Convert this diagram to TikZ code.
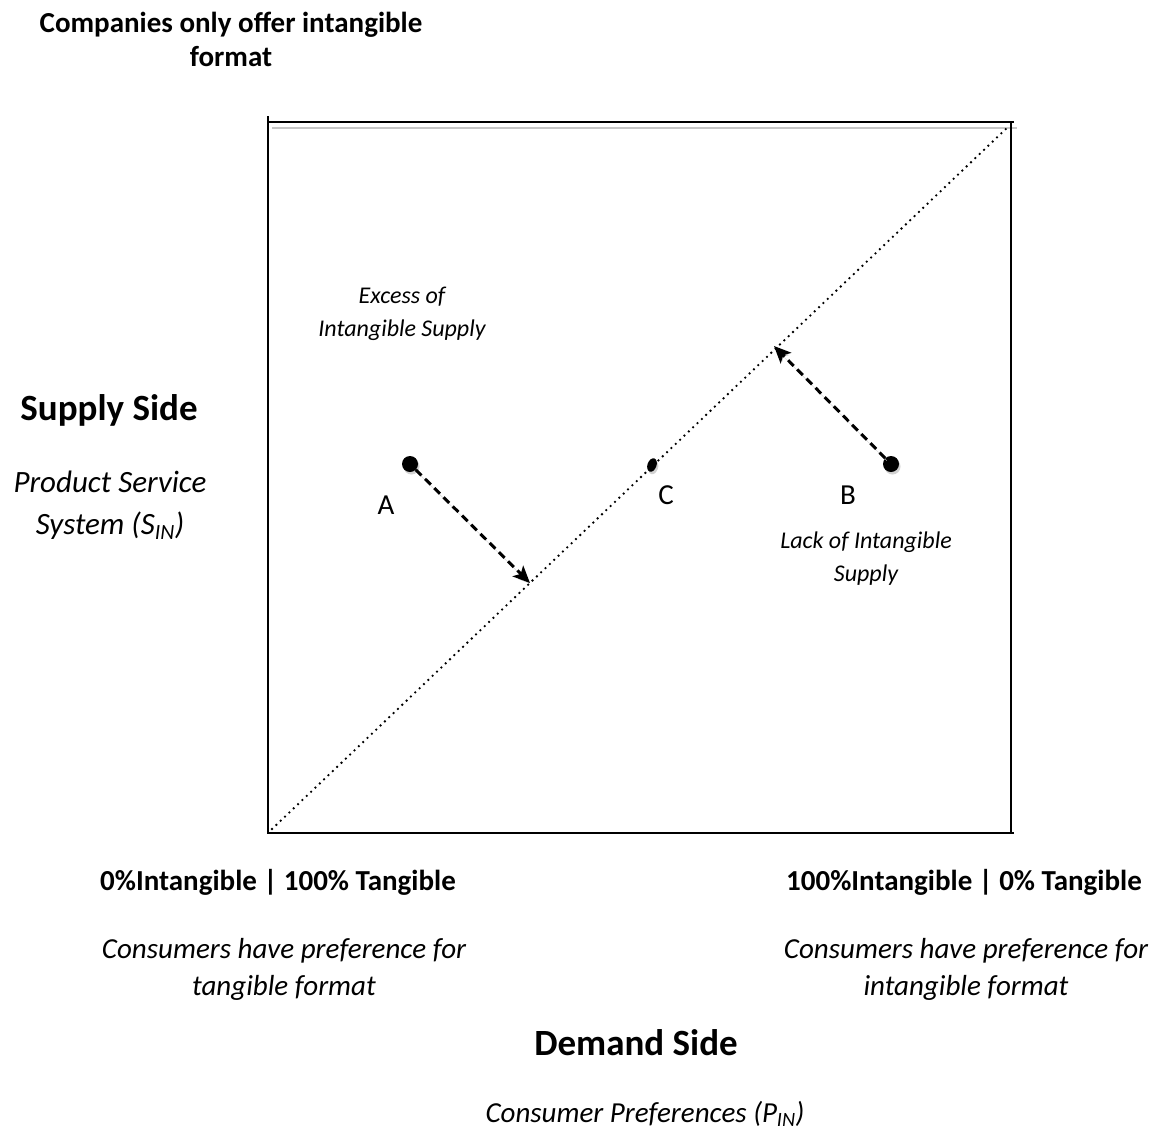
\documentclass[tikz,border=0pt]{standalone}
\usepackage{fontspec}
\setmainfont{Carlito}
\usetikzlibrary{arrows.meta,positioning,shapes.geometric}

\begin{document}
\begin{tikzpicture}[x=1pt,y=-1pt,inner sep=0pt,node font=\fontsize{29}{34}\selectfont]
	\tikzstyle{shade}=[transform canvas={shift={(1.5pt,-2.5pt)}}]
	\tikzstyle{dot}=[circle,fill=black,minimum size=16pt,inner sep=0pt,preaction={fill=gray!35,shade}]
	\tikzstyle{move}=[-{Stealth[length=17pt,width=15pt,inset=4pt]},line width=3pt,dash pattern=on 8pt off 5pt,preaction={draw=gray!35,shade}]
	\tikzstyle{head}=[font=\fontsize{37}{44}\selectfont\bfseries,align=center]
	\tikzstyle{note}=[font=\fontsize{24}{33}\selectfont\itshape,align=center]
	\tikzstyle{side}=[font=\fontsize{29}{37}\selectfont\itshape,align=center]
	\useasboundingbox (0,0) rectangle (1159,1130);
	
	% frame of the map
	\coordinate (BL) at (268,833);
	\coordinate (TL) at (268,122);
	\coordinate (TR) at (1011,122);
	\coordinate (BR) at (1011,833);
	\draw[gray!45,line width=2pt] (272,128) -- (1017,128);
	\draw[line width=2.2pt] (268,116) -- (BL) -- (1014,833);
	\draw[line width=2.2pt] (TL) -- (1014,122);
	\draw[line width=2.2pt] (TR) -- (BR);
	
	% equilibrium line
	\coordinate (O) at (272,829);
	\coordinate (M) at (1010,125);
	\draw[line width=2.6pt,line cap=round,dash pattern=on 0pt off 6pt] (O) -- (M);
	
	% positions
	\node[dot] (A) at (410,464) {};
	\node[dot] (B) at (891,464) {};
	\node[ellipse,fill=black,minimum width=9pt,minimum height=14pt,rotate=-20,preaction={fill=gray!35,shade}] (C) at (652,465) {};
	\coordinate (Aend) at (530,583);
	\coordinate (Bend) at (774,346);
	\draw[move] (A) -- (Aend);
	\draw[move] (B) -- (Bend);
	
	\node (Alab) at (386,505) {A};
	\node (Clab) at (666,495) {C};
	\node (Blab) at (848,495) {B};
	
	\node[note] (excess) at (402,314) {Excess of\\Intangible Supply};
	\node[note] (lack) at (866,559) {Lack of Intangible\\Supply};
	
	% supply side
	\node[font=\fontsize{29}{34}\selectfont\bfseries,align=center] (title) at (231,39) {Companies only offer intangible\\format};
	\node[head] (supply) at (109,410) {Supply Side};
	\node[font=\fontsize{31}{42}\selectfont\itshape,align=center] (pss) at (110,505) {Product Service\\System (S\textsubscript{IN})};
	
	% demand side
	\node[font=\fontsize{29}{34}\selectfont\bfseries] (low) at (278,882) {0\%Intangible | 100\% Tangible};
	\node[font=\fontsize{29}{34}\selectfont\bfseries] (high) at (964,882) {100\%Intangible | 0\% Tangible};
	\node[side] (tang) at (284,969) {Consumers have preference for\\tangible format};
	\node[side] (intang) at (966,969) {Consumers have preference for\\intangible format};
	\node[head] (demand) at (636,1043) {Demand Side};
	\node[font=\fontsize{29}{34}\selectfont\itshape] (pin) at (645,1114) {Consumer Preferences (P\textsubscript{IN})};
\end{tikzpicture}
\end{document}
